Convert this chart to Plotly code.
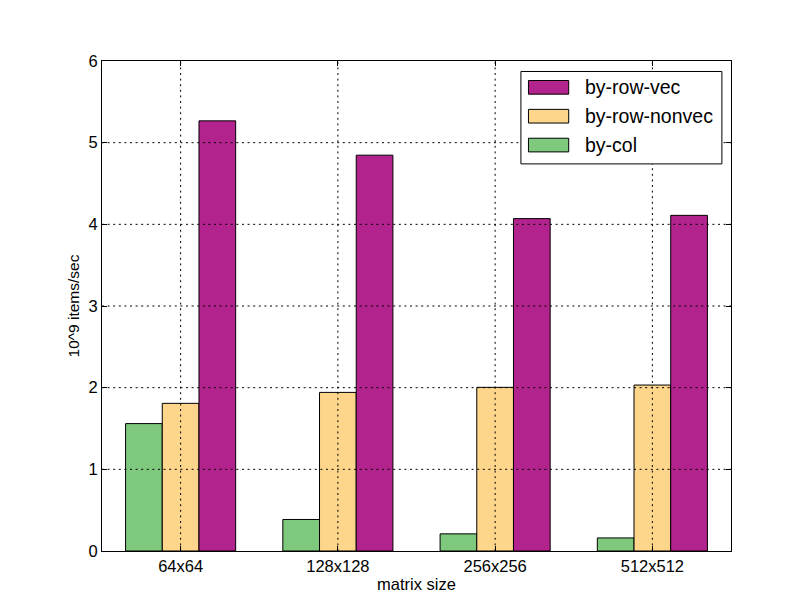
import plotly.graph_objects as go

categories = ["64x64", "128x128", "256x256", "512x512"]
by_col = [1.56, 0.386, 0.21, 0.16]
by_row_nonvec = [1.808, 1.942, 2.004, 2.032]
by_row_vec = [5.267, 4.847, 4.07, 4.11]
y_ticks = [0, 1, 2, 3, 4, 5, 6]

series = [
    ("by-col", by_col, "#7fc97f"),
    ("by-row-nonvec", by_row_nonvec, "#fdd58b"),
    ("by-row-vec", by_row_vec, "#b3238e"),
]

FONT = "Liberation Sans, Arial, sans-serif"

fig = go.Figure()
for name, vals, color in series:
    fig.add_trace(go.Bar(
        x=categories, y=vals, name=name, showlegend=False,
        marker=dict(color=color, line=dict(color="black", width=1)),
    ))

axis_common = dict(
    showline=True, linecolor="black", linewidth=1, mirror="ticks",
    ticks="inside", ticklen=5, tickcolor="black", tickwidth=1,
    showgrid=False, zeroline=False,
    tickfont=dict(family=FONT, size=16.5, color="black"),
)

# grid lines drawn above the bars (as in the reference)
grid_dash = "2px,3.6px"
shapes = []
for i in range(len(categories)):
    shapes.append(dict(type="line", xref="x", yref="paper", x0=i, x1=i, y0=0, y1=1,
                       line=dict(color="black", width=1, dash=grid_dash), layer="above"))
for v in y_ticks[1:-1]:
    shapes.append(dict(type="line", xref="paper", yref="y", x0=0, x1=1, y0=v, y1=v,
                       line=dict(color="black", width=1, dash=grid_dash), layer="above"))

# custom legend (wide swatches like the reference)
legend_items = [("by-row-vec", "#b3238e"), ("by-row-nonvec", "#fdd58b"), ("by-col", "#7fc97f")]
annotations = []
shapes.append(dict(type="rect", xref="paper", yref="paper", x0=0.666, x1=0.9855,
                   y0=0.790, y1=0.9786, line=dict(color="black", width=1),
                   fillcolor="white", layer="above"))
row_top = 0.9602
row_step = 0.0589
sw_h = 0.0279
for k, (name, color) in enumerate(legend_items):
    yt = row_top - k * row_step
    shapes.append(dict(type="rect", xref="paper", yref="paper", x0=0.678, x1=0.742,
                       y0=yt - sw_h, y1=yt, line=dict(color="black", width=1),
                       fillcolor=color, layer="above"))
    annotations.append(dict(xref="paper", yref="paper", x=0.7647, y=yt - sw_h / 2,
                            text=name, showarrow=False, xanchor="left", yanchor="middle",
                            font=dict(family=FONT, size=19.5, color="black")))

fig.update_layout(
    width=812, height=612,
    margin=dict(l=102, r=81, t=61, b=61),
    paper_bgcolor="white", plot_bgcolor="white",
    barmode="group", bargap=0.3, bargroupgap=0,
    showlegend=False,
    font=dict(family=FONT, size=16.5, color="black"),
    xaxis=dict(axis_common, range=[-0.5, 3.5],
               title=dict(text="matrix size", font=dict(size=16.5), standoff=4)),
    yaxis=dict(axis_common, range=[0, 6], tickvals=y_ticks,
               title=dict(text="10^9 items/sec", font=dict(size=15.5), standoff=5)),
    shapes=shapes,
    annotations=annotations,
)

fig.write_html("out.html")
